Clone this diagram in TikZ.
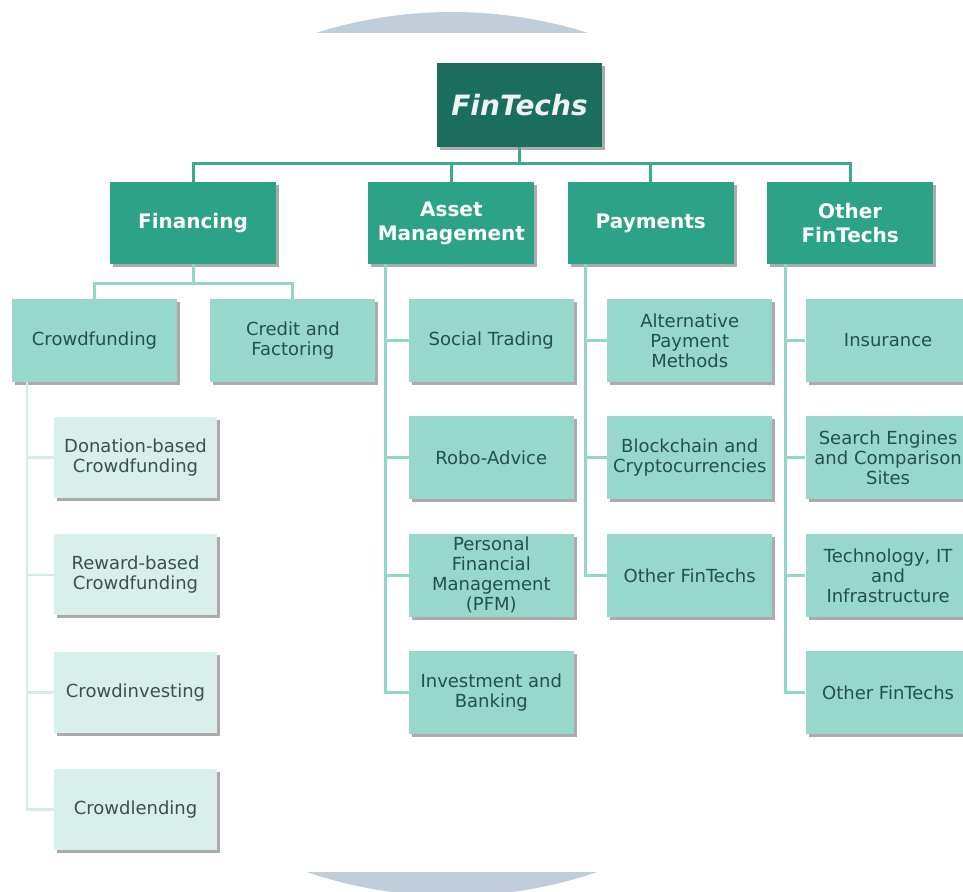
\documentclass[tikz,border=0pt]{standalone}
\usepackage{fontspec}
\setmainfont{DejaVu Sans}
\usetikzlibrary{positioning}
\usetikzlibrary{shadows}

\definecolor{ftdark}{HTML}{1B6E5D}
\definecolor{ftmid}{HTML}{2CA387}
\definecolor{ftlight}{HTML}{98D7CC}
\definecolor{ftpale}{HTML}{D9EFEB}
\definecolor{ftline}{HTML}{3DAA8F}
\definecolor{ftlinelight}{HTML}{92D5C9}
\definecolor{ftlinepale}{HTML}{D2ECE7}
\definecolor{fttext}{HTML}{22524A}
\definecolor{fttextgray}{HTML}{3E504D}
\definecolor{ftback}{HTML}{C0CEDC}

\begin{document}
\begin{tikzpicture}[x=1pt, y=-1pt,
        box/.style={inner sep=0pt, align=center,
            drop shadow={shadow xshift=3pt, shadow yshift=-3pt, fill=black!65, opacity=0.5}},
        rootbox/.style={box, fill=ftdark, text=white!92!ftdark, minimum width=165pt, minimum height=84pt,
            font=\fontsize{28}{32}\selectfont\bfseries\itshape},
        groupbox/.style={box, fill=ftmid, text=white, minimum width=166pt, minimum height=82pt,
            font=\fontsize{20}{24}\selectfont\bfseries},
        catbox/.style={box, fill=ftlight, text=fttext, minimum width=165pt, minimum height=83pt,
            font=\fontsize{18}{20}\selectfont},
        leafbox/.style={box, fill=ftpale, text=fttextgray, minimum width=163pt, minimum height=81pt,
            font=\fontsize{18}{20}\selectfont},
        link/.style={draw=ftline, line width=3pt},
        sublink/.style={draw=ftlinelight, line width=3pt},
        leaflink/.style={draw=ftlinepale, line width=2.5pt}]
    \clip (0,0) rectangle (963,891);
    \fill[ftback] (452,454) ellipse [x radius=446, y radius=442];
    \fill[white] (0,33) rectangle (963,872);

    \node[rootbox] (FT) at (519.5,105) {FinTechs};

    \node[groupbox] (FI) at (193,223) {Financing};
    \node[groupbox, right=92pt of FI] (AM) {Asset\\Management};
    \node[groupbox, right=33pt of AM] (PA) {Payments};
    \node[groupbox, right=33pt of PA] (OF) {Other\\FinTechs};

    \node[catbox] (CF) at (94.5,340.5) {Crowdfunding};
    \node[catbox, right=33pt of CF] (CR) {Credit and\\Factoring};

    \node[leafbox] (DB) at (135.5,457.5) {Donation-based\\Crowdfunding};
    \node[leafbox, below=36pt of DB] (RB) {Reward-based\\Crowdfunding};
    \node[leafbox, below=36pt of RB] (CI) {Crowdinvesting};
    \node[leafbox, below=36pt of CI] (CL) {Crowdlending};

    \node[catbox, right=33pt of CR] (ST) {Social Trading};
    \node[catbox, below=34pt of ST] (RA) {Robo-Advice};
    \node[catbox, below=34pt of RA] (PF) {Personal\\Financial\\Management\\(PFM)};
    \node[catbox, below=34pt of PF] (IB) {Investment and\\Banking};

    \node[catbox, right=33pt of ST] (AP) {Alternative\\Payment\\Methods};
    \node[catbox, below=34pt of AP] (BC) {Blockchain and\\Cryptocurrencies};
    \node[catbox, below=34pt of BC] (OP) {Other FinTechs};

    \node[catbox, right=33pt of AP] (IN) {Insurance};
    \node[catbox, below=34pt of IN] (SE) {Search Engines\\and Comparison\\Sites};
    \node[catbox, below=34pt of SE] (TI) {Technology, IT\\and\\Infrastructure};
    \node[catbox, below=34pt of TI] (OO) {Other FinTechs};

    \coordinate (bus) at (0,163);
    \draw[link] (FT.south) -- (FT.south |- bus);
    \draw[link] (FI.north) -- (FI.north |- bus) -- (OF.north |- bus) -- (OF.north);
    \draw[link] (AM.north) -- (AM.north |- bus);
    \draw[link] (PA.north) -- (PA.north |- bus);

    \coordinate (fbus) at (0,283);
    \draw[sublink] (FI.south) -- (FI.south |- fbus);
    \draw[sublink] (CF.north) -- (CF.north |- fbus) -- (CR.north |- fbus) -- (CR.north);

    \coordinate (cfx) at ([xshift=15pt]CF.south west);
    \draw[leaflink] (cfx) |- (CL.west);
    \draw[leaflink] (cfx |- DB.west) -- (DB.west);
    \draw[leaflink] (cfx |- RB.west) -- (RB.west);
    \draw[leaflink] (cfx |- CI.west) -- (CI.west);

    \coordinate (amx) at ([xshift=17pt]AM.south west);
    \draw[sublink] (amx) |- (IB.west);
    \draw[sublink] (amx |- ST.west) -- (ST.west);
    \draw[sublink] (amx |- RA.west) -- (RA.west);
    \draw[sublink] (amx |- PF.west) -- (PF.west);

    \coordinate (pax) at ([xshift=18pt]PA.south west);
    \draw[sublink] (pax) |- (OP.west);
    \draw[sublink] (pax |- AP.west) -- (AP.west);
    \draw[sublink] (pax |- BC.west) -- (BC.west);

    \coordinate (ofx) at ([xshift=18pt]OF.south west);
    \draw[sublink] (ofx) |- (OO.west);
    \draw[sublink] (ofx |- IN.west) -- (IN.west);
    \draw[sublink] (ofx |- SE.west) -- (SE.west);
    \draw[sublink] (ofx |- TI.west) -- (TI.west);
\end{tikzpicture}
\end{document}
